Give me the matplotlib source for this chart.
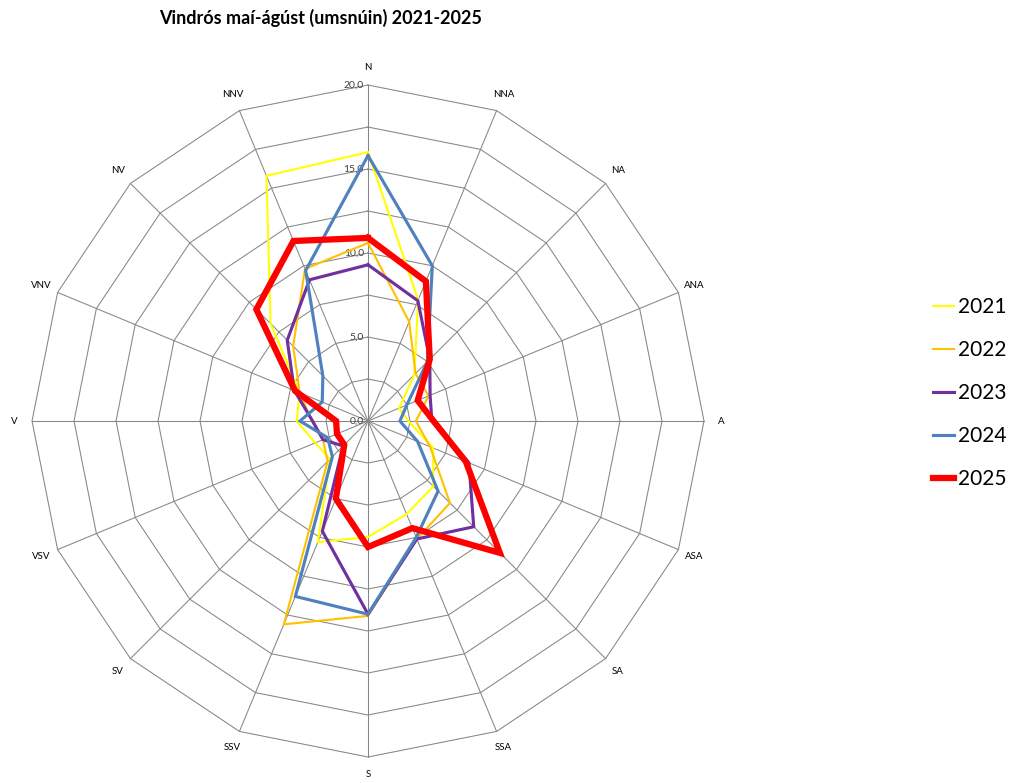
import numpy as np
import matplotlib
matplotlib.use('Agg')
from matplotlib import pyplot as plt
from matplotlib import transforms

plt.rcParams['font.family'] = ['Lato', 'DejaVu Sans']

directions = ['N', 'NNA', 'NA', 'ANA', 'A', 'ASA', 'SA', 'SSA',
              'S', 'SSV', 'SV', 'VSV', 'V', 'VNV', 'NV', 'NNV']

y2021 = [16.0, 7.8, 3.9, 2.0, 2.4, 4.2, 5.5, 6.0,
         6.9, 7.8, 3.2, 3.4, 4.25, 4.4, 8.2, 15.8]
y2022 = [10.6, 6.4, 4.0, 3.9, 2.85, 4.0, 6.9, 7.6,
         11.6, 13.1, 3.4, 2.9, 3.35, 4.4, 6.3, 9.8]
y2023 = [9.3, 7.75, 5.2, 4.0, 3.8, 6.5, 8.9, 7.6,
         11.5, 7.1, 2.1, 2.9, 3.3, 4.75, 6.8, 9.1]
y2024 = [15.8, 10.0, 5.0, 2.5, 1.9, 3.2, 5.9, 7.5,
         11.5, 11.3, 3.0, 2.6, 4.05, 2.95, 3.8, 9.7]
y2025 = [10.9, 9.0, 5.2, 3.2, 3.9, 6.3, 11.1, 6.9,
         7.5, 5.0, 2.0, 2.0, 1.9, 4.7, 9.4, 11.6]

series = [('2021', y2021, '#FFFF00', 1.5),
          ('2022', y2022, '#FFC000', 1.5),
          ('2023', y2023, '#7030A0', 2.25),
          ('2024', y2024, '#4F81BD', 2.25),
          ('2025', y2025, '#FF0000', 4.5)]

rings = [2.5, 5.0, 7.5, 10.0, 12.5, 15.0, 17.5, 20.0]
ring_labels = [0.0, 5.0, 10.0, 15.0, 20.0]
rmax = 20.0

fig = plt.figure(figsize=(10.19, 7.83), dpi=100)
ax = fig.add_axes([0.0314, 0.0332, 0.6595, 0.8582], projection='polar')
ax.set_theta_zero_location('N')
ax.set_theta_direction(-1)
ax.set_ylim(0, rmax)
ax.grid(False)
ax.spines['polar'].set_visible(False)
ax.set_xticks([])
ax.set_yticks([])
ax.patch.set_alpha(0)

theta = np.linspace(0, 2 * np.pi, len(directions), endpoint=False)
theta_closed = np.append(theta, theta[0])

# polygon grid + spokes
gridc = '#868686'
for r in rings:
    ax.plot(theta_closed, [r] * len(theta_closed), color=gridc, lw=0.75,
            zorder=1, clip_on=False)
for t in theta:
    ax.plot([t, t], [0, rmax], color=gridc, lw=0.75, zorder=1, clip_on=False)

# direction labels
for t, name in zip(theta, directions):
    ax.text(t, 21.05, name, ha='center', va='center', fontsize=7)

# value labels on the N spoke
off = transforms.offset_copy(ax.transData, fig=fig, x=-3, y=0, units='points')
for v in ring_labels:
    ax.text(0, v, f'{v:.1f}'.replace('.', ','), transform=off,
            ha='right', va='center', fontsize=7.5, color='#404040')

handles = []
for label, vals, color, lw in series:
    line, = ax.plot(theta_closed, vals + vals[:1], color=color, lw=lw,
                    label=label, zorder=3, clip_on=False,
                    solid_joinstyle='miter')
    handles.append(line)

fig.legend(handles=handles, loc='center left',
           bbox_to_anchor=(0.897, 0.498), frameon=False, fontsize=15,
           handlelength=1.0, handletextpad=0.2, labelspacing=1.1)

fig.text(0.315, 0.977, 'Vindrós maí-ágúst (umsnúin) 2021-2025',
         ha='center', va='center', fontsize=13, fontweight='bold')

plt.savefig('out.png', dpi=100)
